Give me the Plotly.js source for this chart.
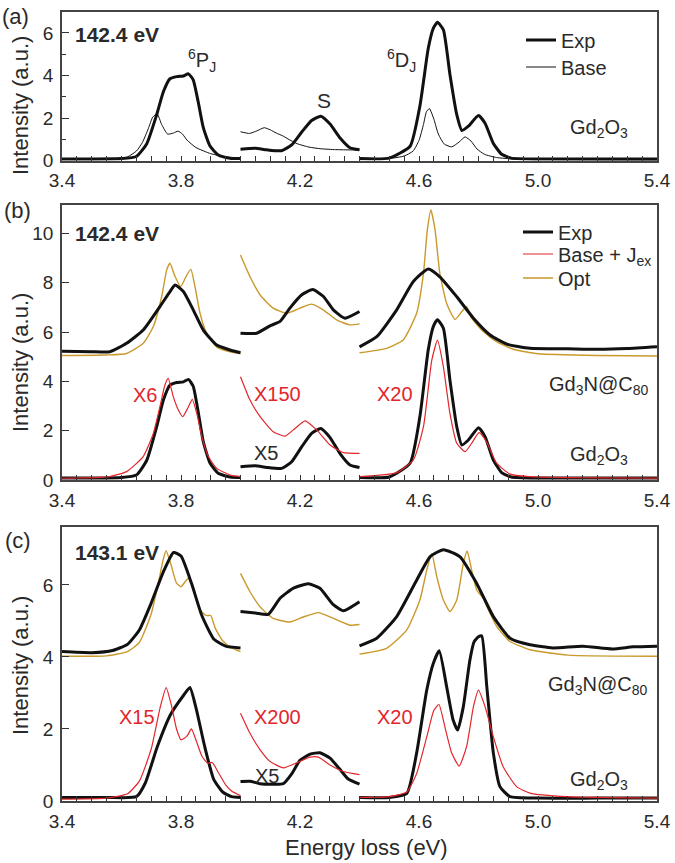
<!DOCTYPE html>
<html><head><meta charset="utf-8">
<script src="https://cdn.plot.ly/plotly-3.0.1.min.js"></script>
<style>html,body{margin:0;padding:0;background:#fff}#chart{width:675px;height:863px}</style>
</head><body><div id="chart"></div>
<script>
// ---------- DATA (energy loss in eV, intensity in a.u.; null = break between segments) ----------
// Gd2O3, experiment at 142.4 eV (used in panels a and b)
const gd2o3Exp1424X = [3.40,3.50,3.60,3.65,3.685,3.718,3.741,3.763,3.786,3.808,3.825,3.841,3.858,3.875,3.897,3.925,3.965,4.00, null,
  4.00,4.05,4.088,4.138,4.172,4.206,4.239,4.27,4.301,4.334,4.368,4.40, null,
  4.40,4.50,4.57,4.603,4.631,4.648,4.662,4.682,4.704,4.727,4.744,4.766,4.80,4.822,4.85,4.878,4.91,5.00,5.10,5.20,5.30,5.40];
const gd2o3Exp1424Y = [0.08,0.08,0.10,0.20,0.80,2.15,3.25,3.85,3.95,3.98,4.08,3.80,2.75,1.55,0.70,0.27,0.12,0.10, null,
  0.54,0.58,0.51,0.47,0.74,1.35,1.89,2.09,1.72,1.08,0.61,0.51, null,
  0.10,0.12,0.68,2.57,5.27,6.22,6.50,6.15,4.05,2.16,1.42,1.62,2.12,1.76,0.81,0.30,0.12,0.08,0.08,0.08,0.08,0.08];
// Gd2O3, "Base" calculation, panel a
const gd2o3BaseX = [3.40,3.50,3.58,3.62,3.65,3.67,3.69,3.705,3.72,3.735,3.755,3.775,3.79,3.805,3.82,3.85,3.90,3.95,4.00, null,
  4.00,4.03,4.055,4.08,4.10,4.12,4.14,4.16,4.19,4.23,4.27,4.32,4.40, null,
  4.40,4.50,4.55,4.58,4.60,4.615,4.625,4.635,4.65,4.665,4.685,4.71,4.735,4.755,4.775,4.795,4.82,4.86,4.92,5.00,5.20,5.40];
const gd2o3BaseY = [0.05,0.05,0.08,0.18,0.45,0.85,1.50,2.05,2.20,1.70,1.25,1.30,1.39,1.25,0.97,0.62,0.33,0.18,0.10, null,
  1.36,1.28,1.40,1.55,1.45,1.30,1.18,1.02,0.80,0.64,0.56,0.52,0.50, null,
  0.05,0.10,0.22,0.45,0.95,1.70,2.30,2.45,1.95,1.25,0.78,0.65,0.88,1.12,0.92,0.55,0.30,0.15,0.08,0.06,0.04,0.03];
// Gd2O3, "Base + Jex" calculation at 142.4 eV (panel b)
const gd2o3BaseJex1424X = [3.40,3.56,3.617,3.673,3.707,3.729,3.746,3.757,3.774,3.791,3.806,3.825,3.838,3.853,3.87,3.892,3.92,3.965,4.00, null,
  4.00,4.032,4.066,4.11,4.15,4.183,4.217,4.256,4.301,4.346,4.40, null,
  4.40,4.525,4.581,4.615,4.643,4.662,4.682,4.704,4.727,4.755,4.777,4.802,4.827,4.861,4.906,4.97,5.10,5.40];
const gd2o3BaseJex1424Y = [0.07,0.14,0.34,0.95,1.89,2.97,3.85,4.12,3.38,2.84,2.57,2.97,3.27,2.70,1.76,0.95,0.47,0.20,0.14, null,
  4.19,3.24,2.57,1.96,1.78,2.09,2.40,2.03,1.42,1.11,1.08, null,
  0.14,0.30,0.81,2.16,4.86,5.67,4.59,2.70,1.49,1.15,1.49,1.92,1.55,0.68,0.24,0.14,0.10,0.08];
// Gd3N@C80, experiment at 142.4 eV (panel b, offset)
const gd3nExp1424X = [3.40,3.50,3.561,3.617,3.673,3.729,3.763,3.78,3.808,3.841,3.875,3.92,3.965,4.00, null,
  4.00,4.054,4.099,4.133,4.166,4.206,4.243,4.278,4.312,4.351,4.40, null,
  4.40,4.458,4.525,4.581,4.631,4.67,4.727,4.783,4.839,4.895,4.973,5.10,5.20,5.30,5.40];
const gd3nExp1424Y = [5.22,5.20,5.20,5.54,6.08,7.03,7.64,7.91,7.64,6.90,6.08,5.47,5.27,5.16, null,
  5.95,5.95,6.25,6.43,6.97,7.51,7.72,7.45,6.90,6.56,6.83, null,
  5.40,5.81,6.90,8.05,8.56,8.24,7.43,6.56,5.88,5.51,5.34,5.32,5.30,5.33,5.40];
// Gd3N@C80, "Opt" calculation at 142.4 eV (panel b)
const gd3nOpt1424X = [3.40,3.55,3.617,3.673,3.707,3.735,3.752,3.763,3.78,3.799,3.817,3.833,3.847,3.864,3.886,3.92,3.965,4.00, null,
  4.00,4.032,4.066,4.11,4.155,4.20,4.239,4.278,4.323,4.368,4.40, null,
  4.40,4.491,4.547,4.592,4.615,4.628,4.64,4.654,4.67,4.693,4.721,4.744,4.76,4.777,4.816,4.861,4.917,5.00,5.20,5.40];
const gd3nOpt1424Y = [5.05,5.07,5.13,5.54,6.22,7.43,8.52,8.79,8.25,7.84,8.25,8.55,7.84,6.76,5.95,5.40,5.20,5.13, null,
  9.12,8.24,7.50,6.97,6.76,6.97,7.13,6.90,6.49,6.29,6.33, null,
  5.16,5.34,5.68,6.76,8.38,10.14,10.95,10.14,8.38,7.16,6.51,6.83,7.03,6.56,6.02,5.61,5.30,5.12,5.05,5.03];
// Gd3N@C80, experiment at 143.1 eV (panel c, offset)
const gd3nExp1431X = [3.40,3.50,3.57,3.62,3.66,3.70,3.74,3.775,3.80,3.835,3.87,3.91,3.95,4.00, null,
  4.00,4.05,4.093,4.133,4.178,4.228,4.267,4.312,4.346,4.40, null,
  4.40,4.458,4.525,4.592,4.637,4.682,4.738,4.794,4.85,4.906,4.973,5.05,5.15,5.25,5.32,5.40];
const gd3nExp1431Y = [4.15,4.12,4.18,4.35,4.75,5.50,6.35,6.90,6.80,6.05,5.15,4.50,4.30,4.25, null,
  5.26,5.22,5.18,5.63,5.91,6.03,5.91,5.45,5.28,5.53, null,
  4.31,4.52,5.12,6.13,6.78,6.98,6.78,6.04,5.12,4.52,4.34,4.25,4.30,4.22,4.28,4.30];
// Gd3N@C80, "Opt" calculation at 143.1 eV (panel c)
const gd3nOpt1431X = [3.40,3.55,3.62,3.66,3.70,3.725,3.74,3.75,3.765,3.785,3.80,3.815,3.828,3.845,3.865,3.885,3.90,3.915,3.94,3.97,4.00, null,
  4.00,4.032,4.066,4.11,4.166,4.211,4.262,4.312,4.368,4.40, null,
  4.40,4.491,4.559,4.603,4.626,4.643,4.66,4.682,4.704,4.727,4.749,4.762,4.777,4.794,4.816,4.833,4.861,4.906,4.973,5.10,5.40];
const gd3nOpt1431Y = [4.02,4.03,4.15,4.40,5.20,6.10,6.70,6.95,6.60,6.05,5.95,6.10,6.20,5.80,5.30,5.15,5.15,4.80,4.45,4.25,4.15, null,
  6.32,5.81,5.39,5.07,4.97,5.11,5.23,5.07,4.88,4.90, null,
  4.08,4.24,4.75,5.58,6.41,6.87,6.22,5.58,5.26,5.58,6.60,6.94,6.41,5.86,5.63,5.31,4.85,4.43,4.20,4.05,4.02];
// Gd2O3, experiment at 143.1 eV (panel c)
const gd2o3Exp1431X = [3.40,3.55,3.65,3.68,3.72,3.765,3.81,3.83,3.85,3.88,3.91,3.94,3.97,4.00, null,
  4.00,4.032,4.066,4.144,4.172,4.20,4.234,4.267,4.301,4.334,4.362,4.40, null,
  4.40,4.50,4.559,4.592,4.626,4.648,4.668,4.693,4.715,4.73,4.749,4.771,4.785,4.80,4.811,4.828,4.85,4.872,4.906,5.00,5.20,5.40];
const gd2o3Exp1431Y = [0.10,0.10,0.12,0.50,1.50,2.40,2.95,3.15,2.60,1.50,0.60,0.25,0.12,0.10, null,
  0.54,0.55,0.48,0.48,0.75,1.13,1.30,1.34,1.19,0.88,0.61,0.47, null,
  0.10,0.10,0.21,1.33,3.08,3.82,4.17,3.17,2.24,1.97,2.62,3.91,4.42,4.56,4.58,3.17,1.33,0.40,0.12,0.08,0.08,0.08];
// Gd2O3, "Base + Jex" calculation at 143.1 eV (panel c)
const gd2o3BaseJex1431X = [3.40,3.55,3.62,3.66,3.70,3.73,3.75,3.768,3.785,3.80,3.82,3.835,3.85,3.87,3.89,3.905,3.925,3.95,3.97,4.00, null,
  4.00,4.032,4.066,4.099,4.144,4.189,4.234,4.262,4.301,4.346,4.40, null,
  4.40,4.50,4.559,4.592,4.626,4.65,4.667,4.687,4.71,4.735,4.76,4.783,4.80,4.822,4.85,4.883,4.928,4.973,5.10,5.40];
const gd2o3BaseJex1431Y = [0.05,0.08,0.20,0.55,1.45,2.60,3.15,2.65,2.00,1.70,1.80,2.00,1.70,1.25,1.05,1.07,0.80,0.45,0.28,0.15, null,
  2.44,1.88,1.42,1.10,0.92,1.06,1.22,1.22,1.00,0.82,0.73, null,
  0.10,0.12,0.25,0.76,1.78,2.52,2.68,2.06,1.33,0.97,1.51,2.62,3.08,2.62,1.78,0.95,0.40,0.22,0.12,0.08];

// tick labels / texts
const xTickVals = [3.4, 3.8, 4.2, 4.6, 5.0, 5.4];
const xTickText = ['3.4', '3.8', '4.2', '4.6', '5.0', '5.4'];
const panelLabels = ['(a)', '(b)', '(c)'];
const energyLabels = ['142.4 eV', '142.4 eV', '143.1 eV'];

// ---------- STYLE ----------
const FONT = 'Liberation Sans, Arial, Helvetica, sans-serif';
const BLACK = '#111111', RED = '#e2262b', GOLD = '#c9992b', TXT = '#2a2a2a';

function tr(x, y, xa, ya, color, width, name, legend) {
  return {type: 'scatter', mode: 'lines', x: x, y: y, xaxis: xa, yaxis: ya,
    name: name, showlegend: !!legend, legend: legend || 'legend',
    connectgaps: false, line: {color: color, width: width, shape: 'spline', smoothing: 0.5},
    hoverinfo: 'skip'};
}

const data = [
  // panel a
  tr(gd2o3BaseX, gd2o3BaseY, 'x', 'y', BLACK, 1, 'Base', 'legend2'),
  tr(gd2o3Exp1424X, gd2o3Exp1424Y, 'x', 'y', BLACK, 3, 'Exp', 'legend'),
  // panel b
  tr(gd3nOpt1424X, gd3nOpt1424Y, 'x2', 'y2', GOLD, 1.4, 'Opt', 'legend5'),
  tr(gd3nExp1424X, gd3nExp1424Y, 'x2', 'y2', BLACK, 3, 'Exp', 'legend3'),
  tr(gd2o3Exp1424X, gd2o3Exp1424Y, 'x2', 'y2', BLACK, 3, 'Exp', null),
  tr(gd2o3BaseJex1424X, gd2o3BaseJex1424Y, 'x2', 'y2', RED, 1.2, 'Base + J<sub>ex</sub>', 'legend4'),
  // panel c
  tr(gd3nOpt1431X, gd3nOpt1431Y, 'x3', 'y3', GOLD, 1.4, 'Opt', null),
  tr(gd3nExp1431X, gd3nExp1431Y, 'x3', 'y3', BLACK, 3, 'Exp', null),
  tr(gd2o3Exp1431X, gd2o3Exp1431Y, 'x3', 'y3', BLACK, 3, 'Exp', null),
  tr(gd2o3BaseJex1431X, gd2o3BaseJex1431Y, 'x3', 'y3', RED, 1.2, 'Base + Jex', null)
];

const H = 863, W = 675;
const px = v => v / W, py = v => 1 - v / H;

function xax(anchor) {
  return {anchor: anchor, domain: [px(62), px(657)], range: [3.4, 5.4],
    tickmode: 'array', tickvals: xTickVals, ticktext: xTickText,
    ticks: 'inside', ticklen: 5, tickwidth: 1, tickcolor: '#333',
    minor: {dtick: 0.05, tick0: 3.4, ticks: 'inside', ticklen: 5, tickwidth: 1, tickcolor: '#333'},
    showline: true, linecolor: '#444', linewidth: 1.5, mirror: true,
    showgrid: false, zeroline: false, ticklabelstandoff: 2,
    tickfont: {family: FONT, size: 19, color: TXT}};
}
function yax(anchor, dom, range, minor) {
  const o = {anchor: anchor, domain: dom, range: range, dtick: 2, tick0: 0,
    ticks: 'inside', ticklen: 7, tickwidth: 1, tickcolor: '#333',
    showline: true, linecolor: '#444', linewidth: 1.5, mirror: true,
    showgrid: false, zeroline: false, ticklabelstandoff: 3,
    tickfont: {family: FONT, size: 19, color: TXT}};
  if (minor) o.minor = {dtick: 1, ticks: 'inside', ticklen: 4, tickwidth: 1, tickcolor: '#333'};
  return o;
}

function ann(text, x, y, xref, yref, opt) {
  return Object.assign({text: text, x: x, y: y, xref: xref, yref: yref, showarrow: false,
    xanchor: 'center', yanchor: 'middle', font: {family: FONT, size: 20, color: TXT}}, opt || {});
}

const annotations = [
  // panel labels and energies
  ann(panelLabels[0], px(15), py(17), 'paper', 'paper', {font: {family: FONT, size: 22, color: TXT}}),
  ann(panelLabels[1], px(17), py(211), 'paper', 'paper', {font: {family: FONT, size: 22, color: TXT}}),
  ann(panelLabels[2], px(18), py(540), 'paper', 'paper', {font: {family: FONT, size: 22, color: TXT}}),
  ann('<b>' + energyLabels[0] + '</b>', px(73), py(35), 'paper', 'paper', {xanchor: 'left', font: {family: FONT, size: 21, color: TXT}}),
  ann('<b>' + energyLabels[1] + '</b>', px(73), py(233), 'paper', 'paper', {xanchor: 'left', font: {family: FONT, size: 21, color: TXT}}),
  ann('<b>' + energyLabels[2] + '</b>', px(73), py(552), 'paper', 'paper', {xanchor: 'left', font: {family: FONT, size: 21, color: TXT}}),
  // y titles
  ann('Intensity (a.u.)', px(20), py(106), 'paper', 'paper', {textangle: -90, font: {family: FONT, size: 22, color: TXT}}),
  ann('Intensity (a.u.)', px(20), py(363), 'paper', 'paper', {textangle: -90, font: {family: FONT, size: 22, color: TXT}}),
  ann('Intensity (a.u.)', px(20), py(666), 'paper', 'paper', {textangle: -90, font: {family: FONT, size: 22, color: TXT}}),
  ann('Energy loss (eV)', px(366), py(847), 'paper', 'paper', {font: {family: FONT, size: 22, color: TXT}}),
  // panel a
  ann('<sup>6</sup>P<sub>J</sub>', 3.87, 4.7, 'x', 'y'),
  ann('S', 4.28, 2.85, 'x', 'y', {font: {family: FONT, size: 21, color: TXT}}),
  ann('<sup>6</sup>D<sub>J</sub>', 4.54, 4.7, 'x', 'y'),
  ann('Gd<sub>2</sub>O<sub>3</sub>', 5.205, 1.5, 'x', 'y'),
  // panel b
  ann('X6', 3.679, 3.45, 'x2', 'y2', {font: {family: FONT, size: 20, color: RED}}),
  ann('X150', 4.124, 3.47, 'x2', 'y2', {font: {family: FONT, size: 20, color: RED}}),
  ann('X20', 4.519, 3.47, 'x2', 'y2', {font: {family: FONT, size: 20, color: RED}}),
  ann('X5', 4.086, 1.08, 'x2', 'y2'),
  ann('Gd<sub>3</sub>N@C<sub>80</sub>', 5.205, 3.85, 'x2', 'y2'),
  ann('Gd<sub>2</sub>O<sub>3</sub>', 5.205, 0.98, 'x2', 'y2'),
  // panel c
  ann('X15', 3.652, 2.34, 'x3', 'y3', {font: {family: FONT, size: 20, color: RED}}),
  ann('X200', 4.124, 2.34, 'x3', 'y3', {font: {family: FONT, size: 20, color: RED}}),
  ann('X20', 4.519, 2.34, 'x3', 'y3', {font: {family: FONT, size: 20, color: RED}}),
  ann('X5', 4.088, 0.69, 'x3', 'y3'),
  ann('Gd<sub>3</sub>N@C<sub>80</sub>', 5.2, 3.22, 'x3', 'y3'),
  ann('Gd<sub>2</sub>O<sub>3</sub>', 5.205, 0.58, 'x3', 'y3')
];

function leg(xPix, yPix) {
  return {x: px(xPix), y: py(yPix), xanchor: 'left', yanchor: 'middle',
    bgcolor: 'rgba(0,0,0,0)', borderwidth: 0, itemwidth: 30,
    font: {family: FONT, size: 20, color: TXT}};
}

const layout = {
  width: W, height: H, margin: {l: 0, r: 0, t: 0, b: 0},
  paper_bgcolor: '#fff', plot_bgcolor: '#fff', showlegend: true,
  font: {family: FONT, color: TXT},
  xaxis: xax('y'), xaxis2: xax('y2'), xaxis3: xax('y3'),
  yaxis: yax('x', [py(160.7), py(11.7)], [0, 7], true),
  yaxis2: yax('x2', [py(480), py(205)], [0, 11.15], false),
  yaxis3: yax('x3', [py(801), py(527.3)], [0, 7.6], false),
  legend: leg(521, 40), legend2: leg(521, 67),
  legend3: leg(518, 232), legend4: leg(518, 254), legend5: leg(518, 278),
  annotations: annotations
};

Plotly.newPlot('chart', data, layout, {displayModeBar: false});
</script></body></html>
